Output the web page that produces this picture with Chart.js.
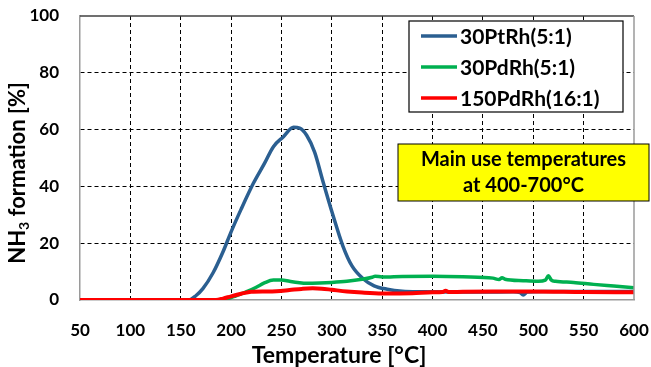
<!DOCTYPE html>
<html>
<head>
<meta charset="utf-8">
<script src="https://cdn.jsdelivr.net/npm/chart.js@4"></script>
<style>
  html, body { margin: 0; padding: 0; background: #fff; }
  canvas { display: block; }
</style>
</head>
<body>
<canvas id="grafico-nh3" width="651" height="367"></canvas>
<script>
// temperatures [°C] and NH3 formation [%] for each catalyst
const ptRhTemp = [50, 100, 150, 158, 165, 172, 182, 192, 200, 210, 222, 233, 242, 252, 262, 268, 275, 283, 291, 301, 311, 320, 331, 342, 355, 370, 390, 420, 450, 480, 487, 490, 494, 510, 550, 600];
const ptRhNh3 = [0, 0, 0, 0, 1.5, 4, 9.5, 17, 24, 32, 41, 48, 54, 57.5, 60.8, 60.5, 58, 52, 42, 30, 19, 12, 7.5, 5, 3.8, 3.1, 2.9, 2.8, 2.8, 2.9, 2.6, 1.8, 2.8, 3, 3, 3];

const pdRhTemp = [50, 150, 185, 195, 205, 216, 225, 233, 242, 250, 258, 266, 275, 288, 300, 315, 330, 340, 343, 350, 370, 400, 430, 460, 466, 469, 472, 490, 505, 512, 515, 518, 522, 540, 560, 580, 600];
const pdRhNh3 = [0, 0, 0, 0.3, 1.5, 3, 4.5, 6, 7, 7, 6.6, 6.2, 5.9, 6, 6.2, 6.6, 7.3, 8, 8.4, 8.1, 8.3, 8.4, 8.2, 7.7, 7.2, 7.8, 7.3, 6.8, 6.6, 7, 8.5, 7, 6.6, 6.2, 5.5, 4.9, 4.3];

const pdRh16Temp = [50, 150, 185, 192, 200, 210, 220, 235, 245, 258, 270, 281, 290, 300, 315, 330, 350, 380, 400, 410, 413, 416, 430, 460, 500, 550, 600];
const pdRh16Nh3 = [0, 0, 0, 0.5, 1.3, 2.2, 2.9, 3, 3.1, 3.5, 3.9, 4.1, 4, 3.6, 3, 2.6, 2.3, 2.4, 2.7, 2.8, 3.3, 2.8, 2.9, 3, 3, 2.8, 2.7];

const seriesNames = ['30PtRh(5:1)', '30PdRh(5:1)', '150PdRh(16:1)'];
const seriesColors = ['#2b5f91', '#00b050', '#ff0000'];
const tempTicks = [50, 100, 150, 200, 250, 300, 350, 400, 450, 500, 550, 600];
const nh3Ticks = [0, 20, 40, 60, 80, 100];
const noteLines = ['Main use temperatures', 'at 400-700°C'];

const FONT = 'Lato, "Open Sans", sans-serif';

function puntos(xs, ys) {
  return xs.map((x, i) => ({ x: x, y: ys[i] }));
}

// frame, legend box, note box and axis titles
const extras = {
  id: 'extras',
  afterDraw(chart) {
    const ctx = chart.ctx;
    const a = chart.chartArea;
    ctx.save();

    // plot frame: dark top, grey right
    ctx.setLineDash([]);
    ctx.lineWidth = 1.5;
    ctx.strokeStyle = '#404040';
    ctx.beginPath(); ctx.moveTo(a.left, a.top); ctx.lineTo(a.right, a.top); ctx.stroke();
    ctx.strokeStyle = '#9a9a9a';
    ctx.beginPath(); ctx.moveTo(a.right, a.top); ctx.lineTo(a.right, a.bottom); ctx.stroke();

    // legend
    const lx = 409, ly = 21, lw = 214, lh = 91;
    ctx.fillStyle = '#fff';
    ctx.fillRect(lx, ly, lw, lh);
    ctx.strokeStyle = '#000';
    ctx.lineWidth = 1.2;
    ctx.strokeRect(lx, ly, lw, lh);
    ctx.font = 'bold 21px ' + FONT;
    ctx.textBaseline = 'middle';
    ctx.textAlign = 'left';
    seriesNames.forEach((name, i) => {
      const y = 36 + i * 31;
      ctx.strokeStyle = seriesColors[i];
      ctx.lineWidth = 3.5;
      ctx.beginPath(); ctx.moveTo(421, y); ctx.lineTo(457, y); ctx.stroke();
      ctx.fillStyle = '#000';
      ctx.fillText(name, 460, y + 1);
    });

    // yellow note
    const nx = 398, ny = 144, nw = 251, nh = 57;
    ctx.fillStyle = '#ffff00';
    ctx.fillRect(nx, ny, nw, nh);
    ctx.strokeStyle = '#000';
    ctx.lineWidth = 1;
    ctx.strokeRect(nx, ny, nw, nh);
    ctx.fillStyle = '#000';
    ctx.font = 'bold 20px ' + FONT;
    ctx.textAlign = 'center';
    ctx.fillText(noteLines[0], nx + nw / 2, 160);
    ctx.fillText(noteLines[1], nx + nw / 2, 186);

    // x title
    ctx.font = 'bold 23px ' + FONT;
    ctx.fillText('Temperature [°C]', 339, 356);

    // y title with subscript
    ctx.translate(18, 173);
    ctx.rotate(-Math.PI / 2);
    const big = 'bold 22px ' + FONT;
    const small = 'bold 14px ' + FONT;
    const parts = [['NH', big, 0], ['3', small, 6], [' formation [%]', big, 0]];
    let total = 0;
    parts.forEach(p => { ctx.font = p[1]; total += ctx.measureText(p[0]).width; });
    let x = -total / 2;
    ctx.textAlign = 'left';
    parts.forEach(p => {
      ctx.font = p[1];
      ctx.fillText(p[0], x, p[2]);
      x += ctx.measureText(p[0]).width;
    });
    ctx.restore();
  }
};

const ctx = document.getElementById('grafico-nh3');
new Chart(ctx, {
  type: 'line',
  data: {
    datasets: [
      { label: seriesNames[0], data: puntos(ptRhTemp, ptRhNh3), borderColor: seriesColors[0], borderWidth: 3.5, order: 2 },
      { label: seriesNames[1], data: puntos(pdRhTemp, pdRhNh3), borderColor: seriesColors[1], borderWidth: 3.5, order: 1 },
      { label: seriesNames[2], data: puntos(pdRh16Temp, pdRh16Nh3), borderColor: seriesColors[2], borderWidth: 4, order: 0 }
    ]
  },
  options: {
    responsive: false,
    animation: false,
    devicePixelRatio: 1,
    layout: { autoPadding: false, padding: { left: 0, right: 17, top: 16, bottom: 0 } },
    elements: { point: { radius: 0 }, line: { cubicInterpolationMode: 'monotone' } },
    plugins: {
      legend: { display: false },
      tooltip: { enabled: false }
    },
    scales: {
      x: {
        type: 'linear',
        min: 50,
        max: 600,
        afterFit: s => { s.height = 67; s.paddingLeft = 0; s.paddingRight = 0; },
        afterBuildTicks: s => { s.ticks = tempTicks.map(v => ({ value: v })); },
        ticks: { color: '#000', font: { family: FONT, weight: 'bold', size: 17 }, padding: 20, maxRotation: 0, autoSkip: false },
        grid: {
          drawTicks: false,
          color: c => (c.tick && (c.tick.value === 50 || c.tick.value === 600)) ? 'rgba(0,0,0,0)' : '#000'
        },
        border: { display: true, color: '#9a9a9a', width: 1.5, dash: [4, 3] }
      },
      y: {
        min: 0,
        max: 100,
        afterFit: s => { s.width = 80; s.paddingTop = 0; s.paddingBottom = 0; },
        afterBuildTicks: s => { s.ticks = nh3Ticks.map(v => ({ value: v })); },
        ticks: { color: '#000', font: { family: FONT, weight: 'bold', size: 17 }, padding: 21 },
        grid: {
          drawTicks: false,
          color: c => (c.tick && (c.tick.value === 0 || c.tick.value === 100)) ? 'rgba(0,0,0,0)' : '#000'
        },
        border: { display: true, color: '#9a9a9a', width: 1.5, dash: [4, 3] }
      }
    }
  },
  plugins: [extras]
});
</script>
</body>
</html>
